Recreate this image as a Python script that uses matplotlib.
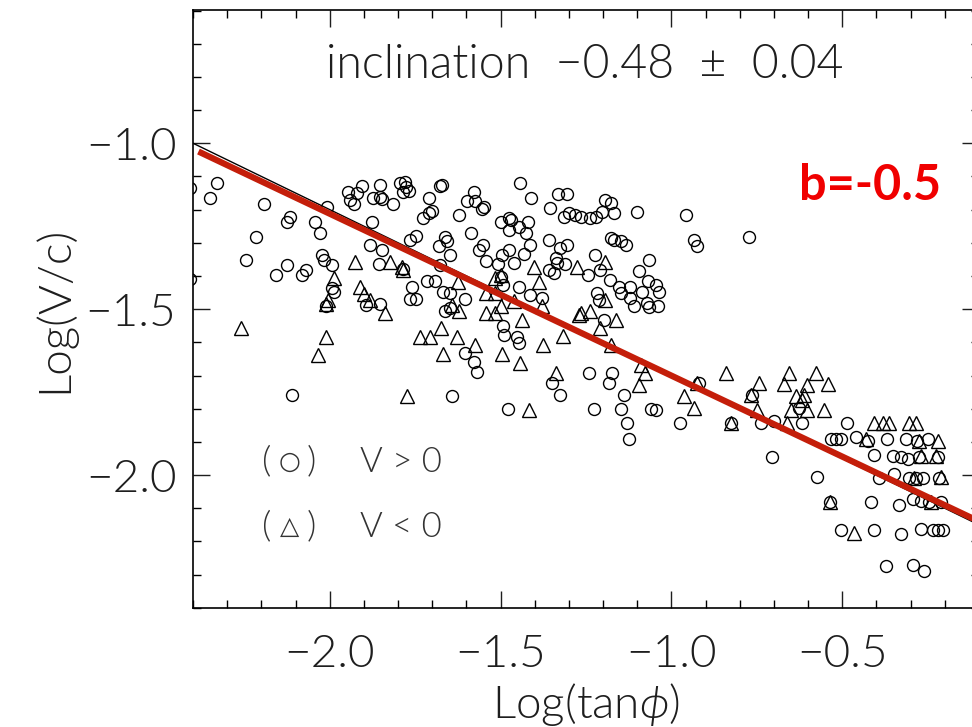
import matplotlib
matplotlib.use("Agg")
import matplotlib.pyplot as plt
from matplotlib.ticker import MultipleLocator

plt.rcParams["font.family"] = ["Lato", "DejaVu Sans"]
plt.rcParams["font.weight"] = 300
plt.rcParams["axes.labelweight"] = 300
plt.rcParams["mathtext.fontset"] = "custom"
plt.rcParams["mathtext.it"] = "Lato:italic"
plt.rcParams["mathtext.rm"] = "Lato"

# V > 0 (circles): log(tan phi), log(V/c)
pos_x = [-2.41, -2.331, -2.350, -2.192, -2.215, -2.116, -2.124, -2.043, -2.028, -2.008,
         -1.945, -1.940, -1.920, -1.930, -1.906, -1.876, -1.854, -1.873, -1.854, -1.846,
         -1.815, -1.793, -1.779, -1.786, -1.769, -1.776, -1.708, -1.678, -1.671, -1.701,
         -1.708, -1.727, -1.623, -1.598, -1.577, -1.574, -1.549, -1.554, -1.586, -1.500,
         -1.476, -1.469, -1.476, -1.447, -1.420, -1.427, -1.442, -1.411, -1.354, -1.333,
         -1.307, -1.315, -1.300, -1.281, -1.359, -1.305,
         -1.193, -1.178, -1.168, -1.203, -1.222, -1.237, -1.266, -1.100, -0.958, -0.773,
         -1.178, -1.169, -1.149, -1.134, -0.934, -0.924,
         -2.41, -2.245, -2.157, -2.124, -2.082, -2.069, -2.023, -2.016, -1.994, -1.994,
         -1.987, -2.010, -1.881, -1.847, -1.857, -1.786, -1.893, -1.854, -1.766, -1.747,
         -1.715, -1.691, -1.759, -1.764, -1.747, -1.681, -1.662, -1.657, -1.647, -1.676,
         -1.564, -1.551, -1.544, -1.508, -1.496, -1.476, -1.462, -1.432, -1.413, -1.325,
         -1.359, -1.334, -1.339, -1.310, -1.344, -1.667, -1.647, -1.603, -1.662, -1.647,
         -1.603, -1.577, -1.569, -1.642, -2.111, -1.500, -1.492, -1.447, -1.413, -1.378,
         -1.493, -1.491, -1.452, -1.447, -1.349, -1.327, -1.479,
         -1.225, -1.208, -1.245, -1.180, -1.154, -1.149, -1.120, -1.095, -1.066, -1.069,
         -1.046, -1.037, -1.085, -1.120, -1.110, -1.071, -1.066, -1.040, -1.217, -1.212,
         -1.198, -1.242, -1.173, -1.183, -1.139, -1.227, -1.149, -1.061, -1.046, -1.131,
         -0.975, -0.919, -0.763, -0.825, -0.739, -0.700, -0.617, -0.485, -0.626,
         -1.124, -0.705, -0.575, -0.536, -0.504, -0.533, -0.519, -0.504, -0.460, -0.426,
         -0.368, -0.314, -0.280, -0.250, -0.407, -0.353, -0.329, -0.309, -0.275, -0.221,
         -0.392, -0.348, -0.304, -0.285, -0.265, -0.216, -0.416, -0.333, -0.294, -0.270,
         -0.246, -0.211, -0.407, -0.329, -0.270, -0.236, -0.221, -0.206, -0.372, -0.294,
         -0.260]
pos_y = [-1.135, -1.119, -1.164, -1.183, -1.284, -1.221, -1.236, -1.236, -1.271, -1.193,
         -1.146, -1.171, -1.151, -1.183, -1.129, -1.236, -1.126, -1.166, -1.163, -1.169,
         -1.183, -1.120, -1.116, -1.146, -1.143, -1.131, -1.166, -1.129, -1.126, -1.203,
         -1.211, -1.226, -1.216, -1.173, -1.146, -1.173, -1.193, -1.199, -1.271, -1.236,
         -1.226, -1.231, -1.261, -1.251, -1.236, -1.271, -1.119, -1.166, -1.196, -1.153,
         -1.153, -1.221, -1.211, -1.216, -1.291, -1.306,
         -1.171, -1.181, -1.211, -1.206, -1.221, -1.226, -1.221, -1.206, -1.216, -1.283,
         -1.286, -1.291, -1.296, -1.306, -1.291, -1.311,
         -1.410, -1.352, -1.397, -1.367, -1.397, -1.382, -1.336, -1.352, -1.367, -1.437,
         -1.447, -1.490, -1.306, -1.323, -1.364, -1.380, -1.487, -1.484, -1.291, -1.281,
         -1.414, -1.414, -1.434, -1.470, -1.470, -1.309, -1.283, -1.296, -1.336, -1.367,
         -1.321, -1.306, -1.354, -1.364, -1.336, -1.321, -1.361, -1.333, -1.306, -1.316,
         -1.382, -1.361, -1.346, -1.364, -1.392, -1.447, -1.450, -1.470, -1.507, -1.497,
         -1.633, -1.658, -1.688, -1.763, -1.758, -1.402, -1.427, -1.432, -1.457, -1.467,
         -1.552, -1.577, -1.584, -1.602, -1.723, -1.758, -1.801,
         -1.336, -1.382, -1.397, -1.412, -1.432, -1.452, -1.432, -1.384, -1.352, -1.414,
         -1.427, -1.447, -1.447, -1.467, -1.490, -1.482, -1.494, -1.490, -1.452, -1.472,
         -1.532, -1.691, -1.691, -1.723, -1.758, -1.801, -1.801, -1.801, -1.803, -1.842,
         -1.842, -1.723, -1.758, -1.842, -1.842, -1.836, -1.842, -1.842, -1.798,
         -1.892, -1.946, -2.006, -2.080, -2.165, -1.892, -1.892, -1.892, -1.886, -1.896,
         -1.892, -1.892, -1.896, -1.892, -1.939, -1.944, -1.946, -1.952, -1.946, -1.946,
         -2.009, -1.996, -2.009, -2.009, -2.009, -2.009, -2.080, -2.090, -2.072, -2.077,
         -2.080, -2.080, -2.167, -2.177, -2.163, -2.167, -2.165, -2.167, -2.273, -2.270,
         -2.290]

# V < 0 (triangles)
neg_x = [-2.260, -2.010, -2.033, -1.925, -1.825, -1.789, -1.786, -1.987, -2.004, -2.010,
         -1.911, -1.901, -1.883, -1.837, -1.774, -1.735, -1.706, -1.674, -1.627, -1.667,
         -1.642, -1.623, -1.626, -1.574, -1.496, -1.444, -1.542, -1.515, -1.544, -1.515,
         -1.500, -1.515, -1.500, -1.462, -1.437, -1.403, -1.378, -1.375, -1.317, -1.418,
         -1.339, -1.388, -1.271,
         -1.276, -1.193, -1.266, -1.237, -1.208, -1.161, -1.193, -1.178, -1.090, -1.076,
         -1.095, -0.924, -0.963, -0.934, -0.841, -0.744, -0.768, -0.656, -0.578, -0.670,
         -0.602, -0.543, -0.636, -0.612, -0.617, -0.651, -0.602, -0.553, -0.749, -0.825,
         -0.661, -0.407, -0.382, -0.363, -0.304, -0.285,
         -0.536, -0.465, -0.431, -0.275, -0.221, -0.270, -0.226, -0.290, -0.211, -0.241]
neg_y = [-1.557, -1.583, -1.638, -1.357, -1.357, -1.372, -1.382, -1.407, -1.472, -1.484,
         -1.434, -1.454, -1.472, -1.512, -1.763, -1.583, -1.583, -1.557, -1.583, -1.635,
         -1.487, -1.507, -1.417, -1.608, -1.635, -1.661, -1.452, -1.452, -1.512, -1.512,
         -1.490, -1.407, -1.397, -1.474, -1.532, -1.372, -1.492, -1.608, -1.580, -1.803,
         -1.693, -1.417, -1.517,
         -1.372, -1.357, -1.512, -1.507, -1.557, -1.532, -1.472, -1.608, -1.668, -1.693,
         -1.728, -1.723, -1.763, -1.798, -1.693, -1.723, -1.758, -1.693, -1.693, -1.725,
         -1.728, -1.725, -1.763, -1.758, -1.773, -1.803, -1.803, -1.803, -1.803, -1.842,
         -1.842, -1.842, -1.842, -1.842, -1.842, -1.842,
         -2.080, -2.175, -1.892, -1.896, -1.896, -1.944, -1.944, -2.009, -2.006, -2.080]

# fitted line (black) and hand-drawn b=-0.5 line (red)
fit_x = [-2.4, -0.05]
fit_y = [-1.0, -2.175]
red_x = [-2.384, -0.05]
red_y = [-1.025, -2.164]

fig = plt.figure(figsize=(9.72, 7.27), dpi=100)
ax = fig.add_axes([193 / 972, 1 - 607.8 / 727, 786 / 972, 597.3 / 727])

ax.plot(pos_x, pos_y, linestyle="none", marker="o", ms=8.6, mfc="none",
        mec="black", mew=1.0)
ax.plot(neg_x, neg_y, linestyle="none", marker="^", ms=9.5, mfc="none",
        mec="black", mew=1.0)
ax.plot(fit_x, fit_y, color="black", lw=1.0)
ax.plot(red_x, red_y, color="#C41E0A", lw=4.5, solid_capstyle="butt")

ax.set_xlim(-2.4, -0.1)
ax.set_ylim(-2.4, -0.6)
ax.xaxis.set_major_locator(MultipleLocator(0.5))
ax.xaxis.set_minor_locator(MultipleLocator(0.1))
ax.yaxis.set_major_locator(MultipleLocator(0.5))
ax.yaxis.set_minor_locator(MultipleLocator(0.1))
ax.tick_params(which="both", direction="in", top=True, right=True, width=1.0)
ax.tick_params(which="major", length=12, labelsize=33, colors="#1e1e1e")
ax.tick_params(which="minor", length=5.5)
ax.tick_params(axis="x", which="major", pad=19)
ax.tick_params(axis="y", which="major", pad=12)
for sp in ax.spines.values():
    sp.set_linewidth(1.2)

ax.set_xlabel("Log(tan$\\phi$)", fontsize=33, color="#1e1e1e")
ax.set_ylabel("Log(V/c)", fontsize=33, color="#1e1e1e")
ax.xaxis.set_label_coords(0.5, -0.122)
ax.yaxis.set_label_coords(-0.15, 0.5)

ax.text(0.499, 0.909, "inclination  \u22120.48  \u00b1  0.04", transform=ax.transAxes,
        ha="center", va="center", fontsize=33.5, color="#1e1e1e")

legend_rows = [(0.2446, "\u25cb", "V > 0"), (0.1358, "\u25b3", "V < 0")]
for fy, sym, label in legend_rows:
    ax.text(0.0938, fy, "(", transform=ax.transAxes, ha="center", va="center",
            fontsize=26, color="#333333")
    ax.text(0.1234, fy, sym, transform=ax.transAxes, ha="center", va="center",
            fontsize=18, color="#333333", family=["DejaVu Sans"], fontweight="normal")
    ax.text(0.151, fy, ")", transform=ax.transAxes, ha="center", va="center",
            fontsize=26, color="#333333")
    ax.text(0.2125, fy, label, transform=ax.transAxes, ha="left", va="center",
            fontsize=25, color="#333333")

ax.text(0.8613, 0.7078, "b=-0.5", transform=ax.transAxes, ha="center", va="center",
        fontsize=35, fontweight="bold", fontfamily="Lato", color="#F00000")

fig.savefig("out.png", dpi=100)
